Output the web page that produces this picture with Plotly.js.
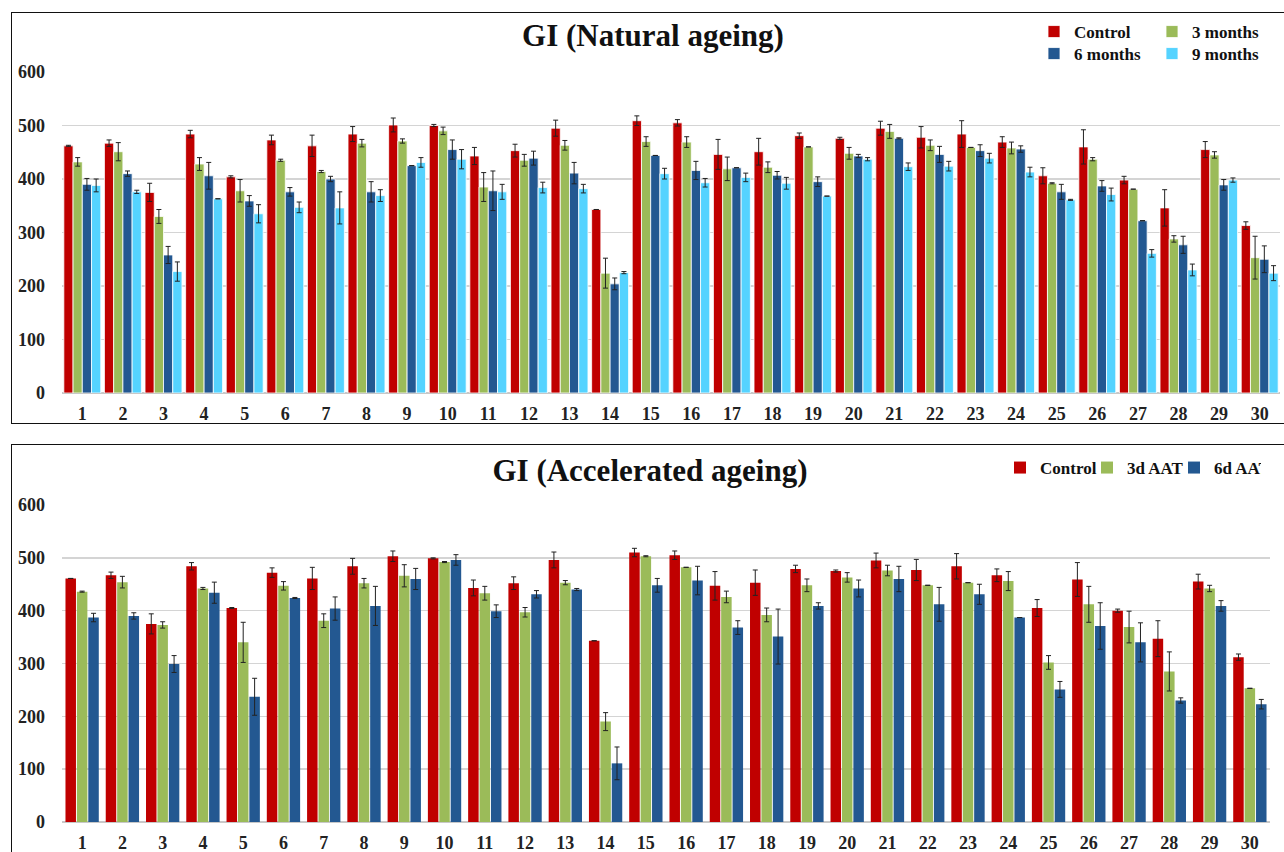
<!DOCTYPE html>
<html>
<head>
<meta charset="utf-8">
<script src="https://cdn.plot.ly/plotly-3.0.1.min.js"></script>
<style>
  html, body { margin:0; padding:0; width:1284px; height:852px; overflow:hidden; background:#fff; }
  #top { position:absolute; left:0; top:0; width:1284px; height:430px; }
  #bot { position:absolute; left:0; top:432px; width:1284px; height:420px; }
  .frame { position:absolute; border:1.5px solid #111; pointer-events:none; box-sizing:border-box; }
</style>
</head>
<body>
<div id="top"></div>
<div id="bot"></div>
<div class="frame" style="left:11px; top:12px; width:1290px; height:412px;"></div>
<div class="frame" style="left:11px; top:444px; width:1290px; height:430px;"></div>
<script>
// ---------- data ----------
const samples = ["1","2","3","4","5","6","7","8","9","10","11","12","13","14","15","16","17","18","19","20","21","22","23","24","25","26","27","28","29","30"];

// Natural ageing
const natControl    = [462,467,375,484,404,473,462,484,501,500,443,453,495,343,509,505,446,451,481,476,495,478,484,469,406,460,398,346,455,313];
const natControlErr = [1,6,17,7,2,9,20,14,13,2,16,12,15,0,9,6,28,25,5,2,13,20,25,10,15,32,7,34,15,7];
const nat3m         = [432,451,330,428,378,435,414,467,471,490,385,435,463,224,470,469,419,422,460,448,489,463,459,458,392,437,381,288,445,253];
const nat3mErr      = [8,17,13,12,21,2,2,7,4,7,27,11,9,28,9,10,22,10,0,11,13,10,0,11,1,3,0,6,6,40];
const nat6m         = [390,410,258,406,359,376,400,376,425,455,378,439,411,204,444,416,421,407,395,443,476,446,453,456,376,387,322,277,389,250];
const nat6mErr      = [11,5,16,25,10,8,5,19,0,18,37,13,20,11,0,17,0,7,9,3,1,15,11,6,14,10,0,16,10,25];
const nat9m         = [388,376,227,363,335,347,346,369,431,437,376,384,382,225,410,393,403,392,368,437,423,424,439,413,361,371,261,230,398,224];
const nat9mErr      = [12,3,18,0,17,10,30,11,9,18,14,10,8,2,10,8,8,11,0,3,7,9,9,9,1,12,7,11,4,14];

// Accelerated ageing
const accControl    = [461,467,375,484,405,472,461,484,503,499,443,452,496,343,510,505,447,453,479,475,495,477,484,467,405,459,400,347,455,312];
const accControlErr = [0,6,19,7,1,9,21,15,10,1,15,12,15,0,8,8,27,24,7,2,14,20,24,12,16,32,3,34,14,6];
const acc3d         = [436,454,373,442,340,447,381,452,466,492,433,397,453,190,503,482,426,392,448,463,476,448,453,456,302,412,369,285,442,253];
const acc3dErr      = [1,11,6,2,38,8,13,9,21,1,13,9,4,17,1,0,11,13,12,9,10,0,0,18,13,34,30,37,6,0];
const acc6d         = [387,390,299,434,237,424,404,409,460,496,399,431,440,111,448,457,368,351,409,442,460,412,431,387,251,371,340,230,409,223];
const acc6dErr      = [8,6,16,20,35,1,22,37,20,10,12,7,2,31,13,27,13,52,6,16,24,32,19,0,15,44,37,5,10,9];

const yTicks = [0,100,200,300,400,500,600];

// ---------- styling ----------
const FONT = "Liberation Serif, Times New Roman, serif";
const C_RED = "#C00000", C_GREEN = "#9BBB59", C_DBLUE = "#235891", C_LBLUE = "#55D3FF";
const LEG_FONT = { family: FONT, size: 17, color: "#111", weight: "bold" };

function barTrace(name, y, err, color, lineW, legendId) {
  return {
    type: "bar", name: name, x: samples, y: y, legend: legendId,
    marker: { color: color, line: { color: "#ffffff", width: lineW } },
    error_y: { type: "data", array: err, visible: true, color: "#222", thickness: 1, width: 2.5 }
  };
}

function baseLayout(titleText, titleX, titleY, margin, h) {
  return {
    width: 1284, height: h,
    margin: margin,
    paper_bgcolor: "#fff", plot_bgcolor: "#fff",
    font: { family: FONT, color: "#111" },
    title: { text: "<b>" + titleText + "</b>", x: titleX, xanchor: "center", xref: "container",
             y: titleY, yanchor: "middle", yref: "container",
             font: { family: FONT, size: 31, color: "#111" } },
    barmode: "group",
    xaxis: { type: "category", showgrid: false, showline: false, zeroline: false, ticks: "",
             tickfont: { family: FONT, size: 18, color: "#222", weight: "bold" },
             ticklabelstandoff: 8, fixedrange: true },
    yaxis: { range: [0, 600], tickvals: yTicks, ticktext: yTicks.map(String), showgrid: true,
             gridcolor: "#D4D4D4", gridwidth: 1.5, zeroline: true, zerolinecolor: "#C8C8C8", zerolinewidth: 1.5,
             showline: false, ticks: "", ticklabelstandoff: 16,
             tickfont: { family: FONT, size: 18, color: "#222", weight: "bold" }, fixedrange: true },
    showlegend: true
  };
}

function legendRow(xPx, yPx, h, entryW) {
  return { orientation: "h", xref: "container", yref: "container",
           x: xPx / 1284, xanchor: "left", y: 1 - yPx / h, yanchor: "middle",
           entrywidth: entryW, entrywidthmode: "pixels", traceorder: "normal",
           font: LEG_FONT, bgcolor: "rgba(0,0,0,0)" };
}

// Top chart
const topTraces = [
  barTrace("Control",  natControl, natControlErr, C_RED,   0.8, "legend"),
  barTrace("3 months", nat3m,      nat3mErr,      C_GREEN, 0.8, "legend"),
  barTrace("6 months", nat6m,      nat6mErr,      C_DBLUE, 0.8, "legend2"),
  barTrace("9 months", nat9m,      nat9mErr,      C_LBLUE, 0.8, "legend2")
];
const topLayout = baseLayout("GI (Natural ageing)", 653 / 1284, 1 - 35 / 430,
                             { l: 62, r: 4, t: 70, b: 37 }, 430);
topLayout.bargap = 0.09;
topLayout.bargroupgap = 0;
topLayout.legend = legendRow(1034, 32, 430, 73);
topLayout.legend2 = legendRow(1034, 54, 430, 73);

// Bottom chart
const botTraces = [
  barTrace("Control", accControl, accControlErr, C_RED,   0, "legend"),
  barTrace("3d AAT",  acc3d,      acc3dErr,      C_GREEN, 0, "legend"),
  barTrace("6d AAT",  acc6d,      acc6dErr,      C_DBLUE, 0, "legend")
];
const botLayout = baseLayout("GI (Accelerated ageing)", 650 / 1284, 1 - 38 / 420,
                             { l: 62, r: 14, t: 73, b: 30 }, 420);
botLayout.bargap = 0.15;
botLayout.bargroupgap = 0.08;
botLayout.legend = legendRow(1000, 36, 420, 42);

const cfg = { staticPlot: true, displayModeBar: false };
Plotly.newPlot("top", topTraces, topLayout, cfg);
Plotly.newPlot("bot", botTraces, botLayout, cfg);
</script>
</body>
</html>
